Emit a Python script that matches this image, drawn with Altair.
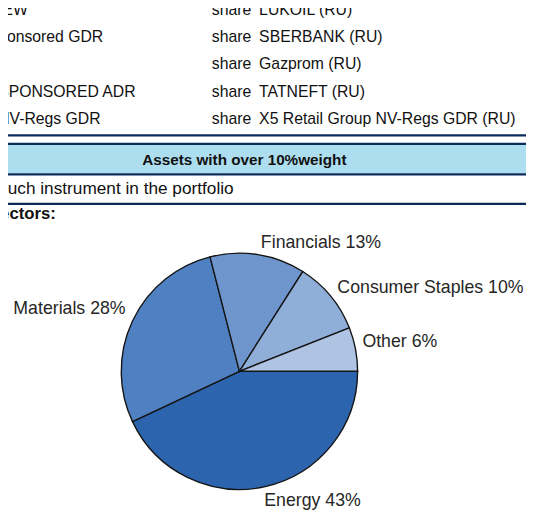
import math
import altair as alt
import pandas as pd

# ---- data ----
left_col = ["IEW", "ponsored GDR", "", "SPONSORED ADR", "NV-Regs GDR"]
kind_col = ["share", "share", "share", "share", "share"]
name_col = ["LUKOIL (RU)", "SBERBANK (RU)", "Gazprom (RU)", "TATNEFT (RU)",
            "X5 Retail Group NV-Regs GDR (RU)"]
header_text = "Assets with over 10%weight"
note_text = "such instrument in the portfolio"
section_text = "ectors:"

sectors = ["Energy", "Materials", "Financials", "Consumer Staples", "Other"]
weights = [43, 28, 13, 10, 6]
colors = ["#2D64AE", "#4F80C2", "#6F96CC", "#8FAED8", "#AFC4E2"]

W, H = 526, 506
SANS = "Liberation Sans, Arial, sans-serif"
NAVY = "#0B2B5B"

rows = pd.DataFrame({"row": list(range(len(left_col))), "left": left_col,
                     "kind": kind_col, "name": name_col})
pie = pd.DataFrame({"sector": sectors, "weight": weights, "order": list(range(len(sectors)))})

row_scale = alt.Scale(domain=[0, 4], range=[3.5, 113.5])


def row_text(field, xpos):
    return alt.Chart(rows).mark_text(
        align="left", baseline="alphabetic", font=SANS, fontSize=16, color="#111111"
    ).encode(x=alt.value(xpos), y=alt.Y("row:Q", scale=row_scale, axis=None), text=f"{field}:N")


left_layer = row_text("left", -10)
kind_layer = row_text("kind", 207)
name_layer = row_text("name", 255)

band = alt.Chart(pd.DataFrame({"a": [0]})).mark_rect(color="#ADDEF0").encode(
    x=alt.value(0), x2=alt.value(W), y=alt.value(135), y2=alt.value(164))

line_layers = [
    alt.Chart(pd.DataFrame({"a": [0]})).mark_rule(color=NAVY, strokeWidth=2.2).encode(
        x=alt.value(0), x2=alt.value(W), y=alt.value(yy))
    for yy in (125.5, 134, 165, 195)
]

header = alt.Chart(pd.DataFrame({"t": [header_text]})).mark_text(
    align="center", baseline="alphabetic", font=SANS, fontWeight="bold", fontSize=15.5, color="#111111"
).encode(x=alt.value(240), y=alt.value(155.5), text="t:N")

note = alt.Chart(pd.DataFrame({"t": [note_text]})).mark_text(
    align="left", baseline="alphabetic", font=SANS, fontSize=17.5, color="#111111"
).encode(x=alt.value(-9), y=alt.value(185), text="t:N")

section = alt.Chart(pd.DataFrame({"t": [section_text]})).mark_text(
    align="left", baseline="alphabetic", font=SANS, fontWeight="bold", fontSize=17, color="#111111"
).encode(x=alt.value(-8), y=alt.value(210), text="t:N")

theta_scale = alt.Scale(domain=[0, 100], range=[math.pi / 2, math.pi / 2 + 2 * math.pi])
CX, CY, R = 235, 365, 120

pie_base = alt.Chart(pie).transform_window(
    end="sum(weight)", sort=[alt.SortField("order")], frame=[None, 0]
).transform_calculate(
    start="datum.end - datum.weight",
    mid="datum.end - datum.weight / 2",
    label="datum.sector + ' ' + datum.weight + '%'",
)

arcs = pie_base.mark_arc(outerRadius=R, stroke="#151515", strokeWidth=1.4).encode(
    theta=alt.Theta("start:Q", scale=theta_scale),
    theta2="end:Q",
    color=alt.Color("sector:N", scale=alt.Scale(domain=sectors, range=colors), legend=None),
    x=alt.value(CX), y=alt.value(CY),
)

label_style = {
    "Energy": ("left", -1, 20),
    "Materials": ("right", -7, -7),
    "Financials": ("left", 3, -7),
    "Consumer Staples": ("left", 7, -3.5),
    "Other": ("left", 7, -2.5),
}
label_layers = []
for s in sectors:
    al, ddx, ddy = label_style[s]
    label_layers.append(
        pie_base.transform_filter(alt.datum.sector == s).mark_text(
            align=al, baseline="alphabetic", font=SANS, fontSize=18, color="#262626",
            dx=ddx, dy=ddy
        ).encode(
            theta=alt.Theta("mid:Q", scale=theta_scale),
            radius=alt.value(R),
            x=alt.value(CX), y=alt.value(CY),
            text="label:N",
        )
    )

chart = alt.layer(
    band, *line_layers, left_layer, kind_layer, name_layer, header, note, section, arcs, *label_layers
).properties(
    width=W, height=H, padding=0, autosize=alt.AutoSizeParams(type="none")
).configure_view(stroke=None)

chart.save("out.html", embed_options={"renderer": "svg", "actions": False})
